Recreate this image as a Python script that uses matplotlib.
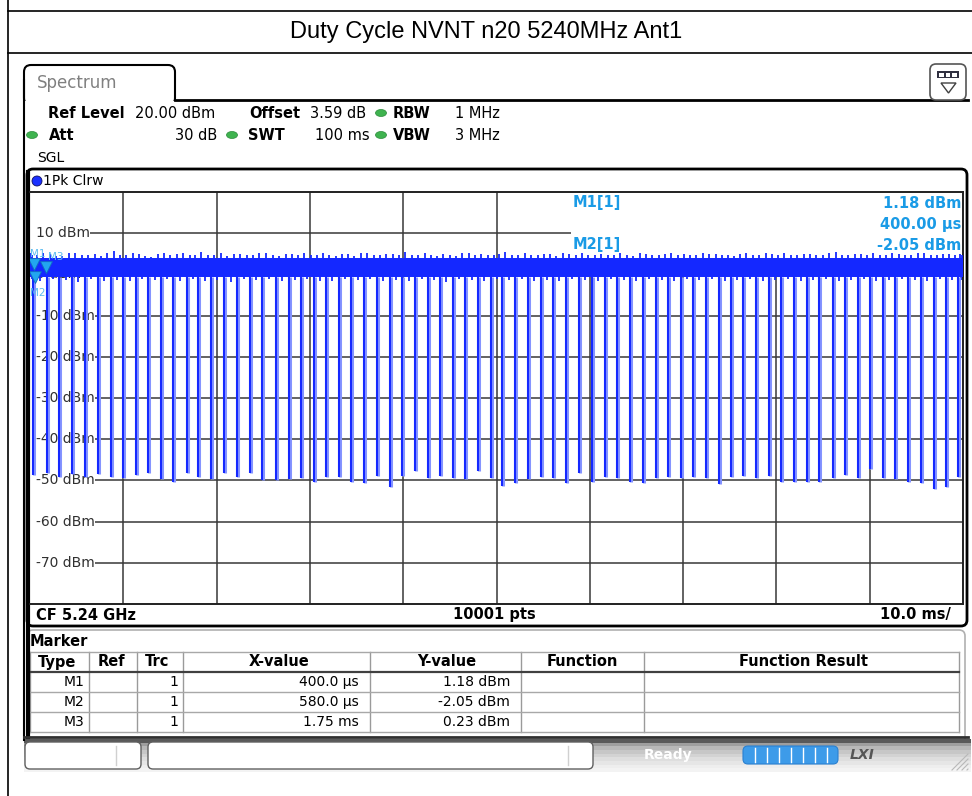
import numpy as np
import matplotlib
import matplotlib.pyplot as plt
from matplotlib.patches import FancyBboxPatch, Rectangle, Ellipse, Circle, Polygon
from matplotlib.path import Path

matplotlib.rcParams.update({'font.family': 'DejaVu Sans'})

# ------------------------------------------------------------------ data
title = 'Duty Cycle NVNT n20 5240MHz Ant1'
ref_levels = [10, 0, -10, -20, -30, -40, -50, -60, -70]
level_labels = ['10 dBm', '0 dBm', '-10 dBm', '-20 dBm', '-30 dBm', '-40 dBm',
                '-50 dBm', '-60 dBm', '-70 dBm']
time_grid = [10, 20, 30, 40, 50, 60, 70, 80, 90]   # ms

# trace: times (ms) where the burst gaps drop, and the level they reach (dBm)
dip_t = [0.35, 1.79, 3.14, 4.47, 5.89, 7.26, 8.65, 10.00, 11.33, 12.68, 14.04, 15.36,
         16.80, 18.04, 19.37, 20.79, 22.22, 23.58, 24.90, 26.37, 27.73, 29.05, 30.41,
         31.73, 33.09, 34.44, 35.80, 37.19, 38.55, 39.87, 41.30, 42.63, 43.98, 45.30,
         46.66, 48.02, 49.38, 50.62, 51.98, 53.38, 54.74, 56.06, 57.42, 58.84, 60.20,
         61.60, 62.95, 64.28, 65.70, 67.06, 68.38, 69.74, 71.06, 72.42, 73.85, 75.17,
         76.45, 77.81, 79.24, 80.49, 81.92, 83.28, 84.60, 86.03, 87.38, 88.71, 90.06,
         91.39, 92.74, 94.13, 95.50, 96.86, 98.18, 99.50]
dip_min = [-48.7, -48.2, -49.1, -48.4, -49.1, -48.4, -49.1, -49.4, -48.7, -48.2, -49.7,
           -50.3, -48.2, -49.1, -49.7, -48.2, -49.1, -48.2, -49.9,
           -49.9, -49.7, -49.5, -50.3, -49.1, -49.1, -50.3, -50.6, -48.9, -51.5, -48.9,
           -47.6, -49.5, -48.9, -49.5, -49.7, -47.7, -49.5,
           -51.4, -50.7, -49.7, -49.1, -49.5, -50.6, -48.3, -50.3, -49.1, -49.5, -50.3,
           -50.6, -49.5, -49.1, -49.5, -49.1, -49.5, -50.9, -49.1,
           -48.9, -49.5, -48.9, -50.3, -50.3, -50.3, -50.3, -49.5, -48.7, -49.5, -47.3,
           -49.5, -49.7, -50.3, -50.7, -52.2, -51.7, -49.1]
band_lo, band_hi = -0.7, 4.1      # dense part of the burst level (dBm)
# noise peaks inside each burst (two upper, one lower per burst)
seg_hi = [5.2, 4.6, 5.0, 4.4, 5.3, 4.8, 4.5, 5.6, 4.7, 5.0, 4.3, 5.1, 4.9, 4.6, 5.4,
          4.8, 4.4, 5.0, 4.7, 5.2, 4.5, 4.9, 5.3, 4.6, 4.8, 5.0, 4.4, 5.1, 4.7, 4.9,
          5.5, 4.6, 4.8, 5.0, 4.5, 5.2, 4.9, 4.6, 5.4, 4.8, 4.7, 5.0, 4.5, 4.9, 5.3,
          4.6, 4.8, 5.1, 4.4, 5.0, 4.7, 5.2, 4.9, 4.6, 5.0, 4.8, 4.5, 5.3, 4.7, 4.9,
          5.1, 4.6, 5.0, 4.8, 5.4, 4.7, 4.9, 5.2, 4.6, 5.0, 4.8, 5.1, 4.7, 5.0, 4.9]
seg_hi2 = [4.7, 5.1, 4.5, 5.3, 4.6, 5.0, 5.2, 4.6, 5.1, 4.5, 5.0, 4.7, 5.3, 4.8, 4.6,
           5.1, 4.9, 4.6, 5.2, 4.7, 5.0, 4.6, 4.8, 5.2, 4.5, 4.9, 5.1, 4.6, 5.0, 4.8,
           4.7, 5.2, 4.5, 4.8, 5.1, 4.6, 4.7, 5.0, 4.8, 5.3, 4.6, 4.9, 5.1, 4.7, 4.8,
           5.0, 4.6, 4.7, 5.2, 4.8, 5.0, 4.6, 4.7, 5.1, 4.9, 4.6, 5.0, 4.8, 5.2, 4.6,
           4.7, 5.0, 4.8, 5.1, 4.6, 5.0, 4.8, 4.7, 5.1, 4.6, 5.2, 4.7, 5.0, 4.8, 4.6]
seg_lo = [-1.2, -1.6, -1.1, -1.4, -1.8, -1.2, -1.5, -1.3, -1.7, -1.1, -1.4, -1.2, -1.6,
          -1.1, -1.5, -1.3, -1.9, -1.2, -1.4, -1.1, -1.6, -1.3, -1.1, -1.5, -1.7, -1.2,
          -1.4, -1.1, -1.6, -1.3, -1.5, -1.1, -1.4, -1.8, -1.2, -1.3, -1.6, -1.1, -1.4,
          -1.2, -1.7, -1.3, -1.5, -1.1, -1.4, -1.6, -1.2, -1.3, -1.5, -1.1, -1.4, -1.7,
          -1.2, -1.3, -1.1, -1.6, -1.4, -1.2, -1.5, -1.3, -1.1, -1.7, -1.4, -1.2, -1.6,
          -1.3, -1.1, -1.5, -1.4, -1.2, -1.3, -1.6, -1.1, -1.4, -1.3]

# markers
mk_names = ['M1', 'M2', 'M3']
mk_t = [0.40, 0.58, 1.75]          # ms
mk_x_text = ['400.0 µs', '580.0 µs', '1.75 ms']
mk_y = [1.18, -2.05, 0.23]         # dBm

table_cols = ['Type', 'Ref', 'Trc', 'X-value', 'Y-value', 'Function', 'Function Result']

# ------------------------------------------------------------------ figure
W, H = 972, 796
fig = plt.figure(figsize=(W / 100, H / 100), dpi=100)
bg = fig.add_axes([0, 0, 1, 1])
bg.axis('off')

blue_txt = '#1a9be6'
trace_c = '#1428ff'

# report frame and title
bg.plot([8, 8], [0, H], color='k', lw=1.2)
bg.plot([8, W], [11, 11], color='k', lw=1.2)
bg.plot([8, W], [53, 53], color='k', lw=1.2)
bg.text(486, 32, title, ha='center', va='center', fontsize=17, family='Liberation Sans')

# Spectrum tab
bg.add_patch(FancyBboxPatch((24, 65), 151, 40, boxstyle='round,pad=0,rounding_size=7',
                            fc='white', ec='k', lw=1.5, zorder=2))
bg.add_patch(Rectangle((20, 101), 160, 8, fc='white', ec='none', zorder=3))
bg.plot([174.5, 968], [100, 100], color='k', lw=2, zorder=3)
bg.text(37, 83, 'Spectrum', fontsize=12, color='#808080', va='center', zorder=4)
bg.plot([24, 24], [80, 740], color='k', lw=1.5, zorder=4)

# icon top right
bg.add_patch(FancyBboxPatch((930, 64), 36, 36, boxstyle='round,pad=0,rounding_size=6',
                            fc='white', ec='#555555', lw=1.2, zorder=4))
bg.add_patch(Rectangle((937, 71), 22, 7, fc='#303040', ec='none', zorder=5))
for xx in [939, 945.5, 952]:
    bg.add_patch(Rectangle((xx, 72.5), 4.5, 4, fc='white', ec='none', zorder=6))
bg.add_patch(Polygon([[941, 83], [956, 83], [948.5, 93]], closed=True, fc='white',
                     ec='#404040', lw=1, zorder=5))

# header settings
hy1, hy2, hy3 = 113, 135, 158
fs = 10.5
bg.text(48, hy1, 'Ref Level', fontsize=fs, fontweight='bold', va='center')
bg.text(135, hy1, '20.00 dBm', fontsize=fs, va='center')
bg.text(249, hy1, 'Offset', fontsize=fs, fontweight='bold', va='center')
bg.text(310, hy1, '3.59 dB', fontsize=fs, va='center')
bg.text(393, hy1, 'RBW', fontsize=fs, fontweight='bold', va='center')
bg.text(455, hy1, '1 MHz', fontsize=fs, va='center')
bg.text(49, hy2, 'Att', fontsize=fs, fontweight='bold', va='center')
bg.text(217, hy2, '30 dB', fontsize=fs, va='center', ha='right')
bg.text(248, hy2, 'SWT', fontsize=fs, fontweight='bold', va='center')
bg.text(370, hy2, '100 ms', fontsize=fs, va='center', ha='right')
bg.text(393, hy2, 'VBW', fontsize=fs, fontweight='bold', va='center')
bg.text(455, hy2, '3 MHz', fontsize=fs, va='center')
bg.text(37, hy3, 'SGL', fontsize=10, va='center')
for (gx, gy) in [(381, hy1), (32, hy2), (232, hy2), (381, hy2)]:
    bg.add_patch(Ellipse((gx, gy), 11, 7, fc='#3fb34f', ec='#2a8a3a', lw=0.5, zorder=4))

# trace window box
bg.add_patch(FancyBboxPatch((27, 169), 940, 457, boxstyle='round,pad=0,rounding_size=6',
                            fc='white', ec='k', lw=2, zorder=1))
bg.plot([27.5, 27.5], [172, 737], color='k', lw=3, zorder=5)
bg.add_patch(Circle((37, 181), 5, fc='#1a30ff', ec='#101060', lw=0.6, zorder=4))
bg.text(43, 181, '1Pk Clrw', fontsize=10, va='center', zorder=4)
bg.text(36, 615, 'CF 5.24 GHz', fontsize=10.5, fontweight='bold', va='center', zorder=4)
bg.text(494, 615, '10001 pts', fontsize=10.5, fontweight='bold', va='center',
        ha='center', zorder=4)
bg.text(951, 615, '10.0 ms/', fontsize=10.5, fontweight='bold', va='center', ha='right',
        zorder=4)

# marker table panel
bg.add_patch(FancyBboxPatch((27, 630), 938, 120, boxstyle='round,pad=0,rounding_size=6',
                            fc='white', ec='#b0b0b0', lw=1.2, zorder=1))
bg.text(30, 641, 'Marker', fontsize=10.5, fontweight='bold', va='center', zorder=4)
col_edges = [30, 89, 137, 183, 370, 521, 644, 959]
col_centers = [57, 111, 157, 279, 447, 582, 803]
row_edges = [652, 672, 692, 712, 732]
for x in col_edges:
    bg.plot([x, x], [652, 732], color='#9a9a9a', lw=1, zorder=3)
for k, y in enumerate(row_edges):
    bg.plot([30, 959], [y, y], color='#404040' if k == 1 else '#a8a8a8',
            lw=1.6 if k == 1 else 1, zorder=3)
for c, s in zip(col_centers, table_cols):
    bg.text(c, 662, s, fontsize=10.5, fontweight='bold', ha='center', va='center', zorder=4)
for i, name in enumerate(mk_names):
    yy = 682 + 20 * i
    bg.text(84, yy, name, fontsize=10, ha='right', va='center', zorder=4)
    bg.text(178, yy, '1', fontsize=10, ha='right', va='center', zorder=4)
    bg.text(359, yy, mk_x_text[i], fontsize=10, ha='right', va='center', zorder=4)
    bg.text(510, yy, '%.2f dBm' % mk_y[i], fontsize=10, ha='right', va='center', zorder=4)
bg.plot([24, 968], [737, 737], color='#303030', lw=2, zorder=5)

# status bar
grad = np.array([0.35, 0.62, 0.72, 0.78, 0.83, 0.87, 0.9, 0.93, 0.95])[:, None]
bg.imshow(grad, extent=(24, 970, 772, 739), cmap='gray', vmin=0, vmax=1, aspect='auto',
          zorder=1)
bg.add_patch(FancyBboxPatch((25, 742), 116, 27, boxstyle='round,pad=0,rounding_size=5',
                            fc='white', ec='#606060', lw=1, zorder=2))
bg.add_patch(FancyBboxPatch((148, 742), 445, 27, boxstyle='round,pad=0,rounding_size=5',
                            fc='white', ec='#606060', lw=1, zorder=2))
bg.plot([116, 116], [746, 765], color='#d0d0d0', lw=1, zorder=3)
bg.plot([568, 568], [746, 765], color='#d0d0d0', lw=1, zorder=3)
bg.text(668, 755, 'Ready', fontsize=10, fontweight='bold', color='white', ha='center',
        va='center', zorder=3)
bg.add_patch(FancyBboxPatch((743, 746), 95, 18, boxstyle='round,pad=0,rounding_size=5',
                            fc='#3d9be9', ec='#2a80d0', lw=0.8, zorder=3))
for xx in [755, 767, 779, 791, 803, 815, 827]:
    bg.plot([xx, xx], [748, 762], color='white', lw=1, zorder=4)
bg.text(862, 755, 'LXI', fontsize=10, fontweight='bold', style='italic', color='#555555',
        ha='center', va='center', zorder=3)
for d in [0, 5, 10, 15]:
    bg.plot([952 + d, 968], [770, 754 + d], color='#b8b8b8', lw=0.8, zorder=3)

bg.set_xlim(0, W)
bg.set_ylim(H, 0)

# ------------------------------------------------------------------ trace axes
ax = fig.add_axes([30 / W, (H - 604) / H, 933 / W, 412 / H])
ax.set_xlim(0, 100)
ax.set_ylim(-80, 20)
ax.set_xticks([])
ax.set_yticks([])
ax.patch.set_alpha(0)
for sp in ax.spines.values():
    sp.set_color('#202020')
    sp.set_linewidth(1.4)
ax.spines['left'].set_visible(False)

for lvl, lab in zip(ref_levels, level_labels):
    x0 = 6.4 if lab == '10 dBm' else 7.0
    ax.hlines(lvl, x0, 100, color='#383838', lw=1.1, zorder=1)
    ax.text(0.65, lvl, lab, fontsize=10, color='#303030', va='center', ha='left', zorder=2)
for t in time_grid:
    ax.axvline(t, color='#383838', lw=1.1, zorder=1)

# marker readout box (top right)
ax.add_patch(Rectangle((58.0, 1.0), 42, 18.9, fc='white', ec='none', zorder=2))
tr = bg.transData
for (px, py, s, ha) in [(573, 203, 'M1[1]', 'left'), (573, 245, 'M2[1]', 'left'),
                        (961, 203, '%.2f dBm' % mk_y[0], 'right'),
                        (961, 224, '400.00 µs', 'right'),
                        (961, 245, '%.2f dBm' % mk_y[1], 'right'),
                        (961, 266, '580.00 µs', 'right')]:
    ax.text(px, py, s, transform=tr, fontsize=10.5, fontweight='bold', color=blue_txt,
            va='center', ha=ha, zorder=3)

# trace
ax.fill_between([0, 100], band_lo, band_hi, color=trace_c, lw=0, zorder=4)
edges = [0] + dip_t + [100]
pos_a = [a + (b - a) * 0.25 for a, b in zip(edges[:-1], edges[1:])]
pos_b = [a + (b - a) * 0.5 for a, b in zip(edges[:-1], edges[1:])]
pos_c = [a + (b - a) * 0.75 for a, b in zip(edges[:-1], edges[1:])]
ax.vlines(pos_a, band_hi - 0.5, seg_hi, color=trace_c, lw=1.3, zorder=4)
ax.vlines(pos_c, band_hi - 0.5, seg_hi2, color=trace_c, lw=1.3, zorder=4)
ax.vlines(pos_b, seg_lo, band_lo + 0.5, color=trace_c, lw=1.3, zorder=4)
ax.vlines([t + 0.12 for t in dip_t], dip_min, band_lo, color='#8594ff', lw=2.2, zorder=4)
ax.vlines(dip_t, dip_min, band_lo, color=trace_c, lw=1.5, zorder=4)

# marker symbols
tri = Path([(-0.6, 1.2), (0.6, 1.2), (0, 0), (-0.6, 1.2)],
           [Path.MOVETO, Path.LINETO, Path.LINETO, Path.CLOSEPOLY])
ax.plot(mk_t, mk_y, ls='none', marker=tri, ms=17, color='#22a6f0', mec='#1070c0', mew=0.6,
        zorder=5)
lab_offsets = {'M1': (-4, 11, 'bottom'), 'M2': (-5, -5, 'top'), 'M3': (2, 11.5, 'bottom')}
for name, t, v in zip(mk_names, mk_t, mk_y):
    dx, dy, va = lab_offsets[name]
    ax.annotate(name, (t, v), xytext=(dx, dy), textcoords='offset pixels', fontsize=7.5,
                color='#5cbcf0', ha='left', va=va, zorder=5)

fig.savefig('out.png', dpi=100)
